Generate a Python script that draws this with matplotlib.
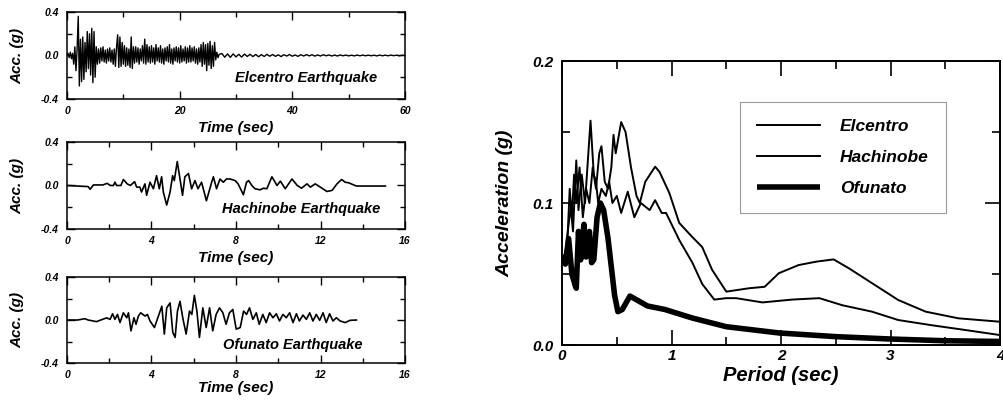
import numpy as np
import matplotlib
matplotlib.use("Agg")
import matplotlib.pyplot as plt
from matplotlib.font_manager import FontProperties
from matplotlib.ticker import MultipleLocator, FormatStrFormatter

plt.rcParams['font.family'] = ['Liberation Sans', 'DejaVu Sans']
plt.rcParams['font.weight'] = 'bold'
plt.rcParams['font.style'] = 'italic'
plt.rcParams['axes.labelweight'] = 'bold'
plt.rcParams['axes.unicode_minus'] = False

# ---- Elcentro record (strong part sampled at 0.2 s, coda at 0.5 s) ----
elcentro_dt = 0.2
elcentro_strong = [
    0.0, 0.02, -0.02, 0.03, -0.03, 0.02, -0.08, 0.08, -0.14, 0.06,
    0.36, -0.28, 0.15, -0.24, 0.17, -0.22, 0.12, -0.15, 0.22, -0.12,
    0.20, -0.18, 0.25, -0.25, 0.22, -0.20, 0.08, -0.08, 0.06, -0.07,
    0.07, -0.05, 0.08, -0.06, 0.05, -0.07, 0.06, -0.05, 0.07, -0.06,
    0.05, -0.08, 0.06, -0.10, 0.08, 0.19, -0.11, 0.17, -0.10, 0.12,
    -0.08, 0.09, -0.10, 0.07, -0.09, 0.06, -0.11, 0.17, -0.12, 0.08,
    -0.07, 0.08, -0.06, 0.07, -0.08, 0.06, -0.05, 0.09, -0.07, 0.15,
    -0.08, 0.10, -0.06, 0.08, -0.07, 0.09, -0.06, 0.07, -0.08, 0.10,
    -0.05, 0.07, -0.06, 0.09, -0.07, 0.06, -0.08, 0.07, -0.05, 0.08,
    -0.06, 0.10, -0.07, 0.06, -0.08, 0.07, -0.05, 0.08, -0.06, 0.07,
    -0.07, 0.09, -0.06, 0.06, -0.05, 0.08, -0.07, 0.07, -0.06, 0.09,
    -0.06, 0.07, -0.05, 0.08, -0.07, 0.06, -0.08, 0.07, -0.06, 0.10,
    -0.10, 0.12, -0.08, 0.10, -0.14, 0.11, -0.09, 0.13, -0.12, 0.09,
    -0.10, 0.12, -0.04, 0.03, -0.02, 0.01,
]
elcentro_coda_start = 27.5
elcentro_coda_dt = 0.5
elcentro_coda = [
    0.018, -0.016, 0.014, -0.017, 0.015, -0.013, 0.011, -0.015, 0.013, -0.009,
    0.011, -0.010, 0.009, -0.012, 0.008, -0.009, 0.010, -0.007, 0.009, -0.008,
    0.006, -0.010, 0.007, -0.005, 0.009, -0.007, 0.005, -0.008, 0.007, -0.005,
    0.008, -0.004, 0.007, -0.006, 0.005, -0.005, 0.007, -0.003, 0.005, -0.005,
    0.004, -0.005, 0.005, -0.003, 0.004, -0.004, 0.003, -0.004, 0.004, -0.003,
    0.004, -0.003, 0.003, -0.003, 0.003, -0.004, 0.004, -0.003, 0.003, -0.003,
    0.004, -0.002, 0.003, -0.003, 0.002, 0.0,
]

# ---- Hachinobe record (read-off points) ----
hachinobe_t = [
    0.0, 0.5, 1.0, 1.1, 1.25, 1.7, 1.9, 2.05, 2.2, 2.27, 2.35, 2.55, 2.67, 2.85,
    3.0, 3.2, 3.3, 3.45, 3.53, 3.69, 3.77, 3.93, 4.09, 4.24, 4.37, 4.48, 4.56,
    4.72, 4.88, 5.0, 5.08, 5.22, 5.35, 5.47, 5.58, 5.75, 5.9, 6.06, 6.2, 6.37,
    6.6, 6.85, 6.93, 7.08, 7.24, 7.4, 7.55, 7.72, 7.96, 8.1, 8.35, 8.5, 8.6,
    8.75, 8.9, 9.14, 9.3, 9.46, 9.7, 9.94, 10.1, 10.33, 10.65, 10.9, 11.1,
    11.36, 11.52, 11.75, 11.99, 12.3, 12.55, 12.78, 13.0, 13.17, 13.33, 13.57,
    13.7, 15.07,
]
hachinobe_acc = [
    0.0, -0.005, -0.01, -0.035, 0.005, 0.005, 0.02, 0.0, 0.0, 0.03, 0.0, 0.0,
    0.055, 0.015, 0.0, 0.035, -0.015, -0.015, -0.06, 0.015, -0.09, 0.03, -0.03,
    0.09, -0.03, 0.08, -0.06, -0.18, -0.06, 0.09, 0.045, 0.22, 0.06, -0.09,
    0.08, 0.11, -0.03, 0.045, -0.03, 0.03, -0.14, 0.03, 0.08, -0.03, 0.06,
    0.03, 0.06, 0.06, 0.045, 0.015, -0.085, 0.03, 0.045, 0.0, -0.03, -0.04,
    -0.025, -0.03, 0.08, 0.0, 0.04, -0.03, 0.06, 0.0, -0.025, 0.015, -0.015,
    0.015, -0.015, -0.055, -0.045, 0.015, 0.055, 0.03, 0.025, 0.005, -0.005,
    -0.005,
]

# ---- Ofunato record (read-off points) ----
ofunato_t = [
    0.0, 0.5, 0.85, 1.0, 1.4, 1.6, 1.88, 2.04, 2.16, 2.27, 2.39, 2.51, 2.67,
    2.83, 2.91, 3.03, 3.17, 3.27, 3.38, 3.49, 3.59, 3.7, 3.81, 3.93, 4.14,
    4.3, 4.41, 4.49, 4.61, 4.72, 4.88, 5.01, 5.12, 5.23, 5.35, 5.48, 5.64,
    5.8, 5.91, 6.03, 6.15, 6.27, 6.43, 6.59, 6.75, 6.9, 7.06, 7.22, 7.38,
    7.53, 7.69, 7.85, 8.01, 8.2, 8.36, 8.5, 8.64, 8.8, 8.96, 9.1, 9.27, 9.43,
    9.59, 9.75, 9.91, 10.06, 10.22, 10.38, 10.54, 10.7, 10.86, 11.0, 11.17,
    11.33, 11.49, 11.64, 11.8, 11.96, 12.12, 12.27, 12.43, 12.59, 12.75,
    12.93, 13.17, 13.4, 13.7,
]
ofunato_acc = [
    0.0, 0.0, 0.012, 0.0, -0.015, 0.0, 0.02, 0.006, 0.058, 0.006, 0.052,
    -0.024, 0.067, 0.021, 0.067, -0.101, 0.021, -0.04, 0.037, 0.067, 0.052,
    0.037, 0.052, -0.009, -0.07, 0.021, 0.083, 0.128, -0.131, 0.113, 0.159,
    -0.116, -0.162, 0.083, 0.174, 0.021, -0.131, 0.083, 0.052, 0.229, 0.083,
    -0.162, 0.113, -0.07, 0.113, -0.101, 0.052, 0.113, 0.067, -0.04, 0.067,
    0.098, -0.085, -0.07, 0.083, 0.052, 0.113, 0.006, 0.067, -0.04, 0.052,
    -0.024, 0.067, 0.021, 0.058, -0.009, 0.052, 0.021, 0.067, -0.024, 0.058,
    -0.009, 0.046, 0.006, 0.067, -0.009, 0.052, -0.003, 0.067, -0.024, 0.058,
    -0.009, 0.021, -0.009, -0.024, -0.003, 0.0,
]

# ---- Response spectra ----
period_el = [0.0, 0.03, 0.06, 0.08, 0.10, 0.13, 0.15, 0.18, 0.21, 0.26, 0.29,
             0.31, 0.33, 0.36, 0.40, 0.43, 0.46, 0.50, 0.54, 0.60, 0.66, 0.72,
             0.80, 0.85, 0.91, 0.95, 1.07, 1.19, 1.28, 1.39, 1.50, 1.59, 1.83,
             2.10, 2.35, 2.56, 2.83, 3.07, 3.37, 3.68, 4.0]
sa_el = [0.060, 0.065, 0.085, 0.097, 0.080, 0.130, 0.095, 0.120, 0.100, 0.158,
         0.120, 0.115, 0.100, 0.110, 0.105, 0.115, 0.100, 0.105, 0.093, 0.108,
         0.090, 0.100, 0.095, 0.102, 0.093, 0.093, 0.074, 0.058, 0.043, 0.032,
         0.033, 0.033, 0.030, 0.032, 0.033, 0.028, 0.0235, 0.0176, 0.014,
         0.0106, 0.007]

period_ha = [0.0, 0.03, 0.05, 0.07, 0.09, 0.11, 0.13, 0.16, 0.19, 0.22, 0.25,
             0.28, 0.31, 0.34, 0.36, 0.39, 0.42, 0.45, 0.47, 0.49, 0.54, 0.58,
             0.63, 0.68, 0.71, 0.76, 0.85, 0.89, 0.98, 1.07, 1.19, 1.28, 1.37,
             1.50, 1.71, 1.85, 1.98, 2.16, 2.32, 2.48, 2.62, 2.83, 3.07, 3.32,
             3.62, 4.0]
sa_ha = [0.058, 0.060, 0.075, 0.110, 0.090, 0.120, 0.100, 0.125, 0.090, 0.110,
         0.100, 0.125, 0.110, 0.135, 0.140, 0.115, 0.110, 0.125, 0.148, 0.135,
         0.157, 0.150, 0.125, 0.105, 0.100, 0.115, 0.1256, 0.122, 0.107, 0.086,
         0.076, 0.069, 0.053, 0.0376, 0.040, 0.041, 0.0506, 0.0563, 0.0587,
         0.0603, 0.054, 0.0436, 0.0317, 0.0235, 0.0188, 0.0164]

period_of = [0.0, 0.03, 0.06, 0.09, 0.12, 0.13, 0.15, 0.17, 0.20, 0.22, 0.25,
             0.27, 0.29, 0.32, 0.35, 0.38, 0.42, 0.45, 0.48, 0.51, 0.55, 0.62,
             0.70, 0.78, 0.94, 1.19, 1.50, 1.98, 2.50, 3.01, 3.50, 4.0]
sa_of = [0.060, 0.057, 0.075, 0.050, 0.042, 0.040, 0.080, 0.060, 0.085, 0.062,
         0.080, 0.058, 0.060, 0.090, 0.100, 0.095, 0.075, 0.055, 0.035, 0.0235,
         0.025, 0.0345, 0.031, 0.0275, 0.025, 0.019, 0.0129, 0.0085, 0.0059,
         0.0042, 0.003, 0.0025]


def style_history(ax, xmax, xmajor):
    ax.set_xlim(0, xmax)
    ax.set_ylim(-0.4, 0.4)
    ax.xaxis.set_major_locator(MultipleLocator(xmajor))
    ax.xaxis.set_minor_locator(MultipleLocator(xmajor / 2))
    ax.yaxis.set_major_locator(MultipleLocator(0.4))
    ax.yaxis.set_minor_locator(MultipleLocator(0.2))
    ax.yaxis.set_major_formatter(FormatStrFormatter('%.1f'))
    ax.tick_params(which='both', direction='in', top=True, right=True,
                   width=1.0, labelsize=7.5)
    ax.tick_params(which='major', length=6)
    ax.tick_params(which='minor', length=3.5)
    ax.tick_params(axis='x', pad=5)
    ax.tick_params(axis='y', pad=6)
    for s in ax.spines.values():
        s.set_linewidth(1.1)
    ax.set_ylabel("Acc. (g)", fontsize=11)
    ax.yaxis.set_label_coords(-0.125, 0.5)
    ax.set_xlabel("Time (sec)", fontsize=11)


fig = plt.figure(figsize=(10.04, 4.05), dpi=100)

# Elcentro
ax1 = fig.add_axes([0.0667, 0.7556, 0.3367, 0.2148])
t_strong = np.arange(len(elcentro_strong)) * elcentro_dt
t_coda = elcentro_coda_start + np.arange(len(elcentro_coda)) * elcentro_coda_dt
ax1.plot(np.concatenate([t_strong, t_coda]),
         elcentro_strong + elcentro_coda, color='black', lw=1.0)
style_history(ax1, 60, 20)
ax1.xaxis.set_label_coords(0.5, -0.25)
ax1.text(0.497, 0.24, "Elcentro Earthquake", transform=ax1.transAxes,
         fontsize=10.5, ha='left', va='center')

# Hachinobe
ax2 = fig.add_axes([0.0667, 0.4346, 0.3367, 0.2148])
ax2.plot(hachinobe_t, hachinobe_acc, color='black', lw=1.2)
style_history(ax2, 16, 4)
ax2.xaxis.set_label_coords(0.5, -0.25)
ax2.text(0.459, 0.23, "Hachinobe Earthquake", transform=ax2.transAxes,
         fontsize=10.5, ha='left', va='center')

# Ofunato
ax3 = fig.add_axes([0.0667, 0.1037, 0.3367, 0.2123])
ax3.plot(ofunato_t, ofunato_acc, color='black', lw=1.2)
style_history(ax3, 16, 4)
ax3.xaxis.set_label_coords(0.5, -0.21)
ax3.text(0.462, 0.21, "Ofunato Earthquake", transform=ax3.transAxes,
         fontsize=10.5, ha='left', va='center')

# Response spectra
ax4 = fig.add_axes([0.5598, 0.1481, 0.4363, 0.7012])
ax4.plot(period_el, sa_el, color='black', lw=1.4, label="Elcentro")
ax4.plot(period_ha, sa_ha, color='black', lw=1.4, label="Hachinobe")
ax4.plot(period_of, sa_of, color='black', lw=4.0, label="Ofunato",
         solid_capstyle='butt')
ax4.set_xlim(0, 4)
ax4.set_ylim(0, 0.2)
ax4.xaxis.set_major_locator(MultipleLocator(1))
ax4.xaxis.set_minor_locator(MultipleLocator(0.5))
ax4.yaxis.set_major_locator(MultipleLocator(0.1))
ax4.yaxis.set_minor_locator(MultipleLocator(0.05))
ax4.yaxis.set_major_formatter(FormatStrFormatter('%.1f'))
ax4.tick_params(which='both', direction='in', top=True, right=True,
                width=1.2, labelsize=11)
ax4.tick_params(which='major', length=11)
ax4.tick_params(which='minor', length=6)
ax4.tick_params(axis='x', pad=3)
ax4.tick_params(axis='y', pad=6)
for s in ax4.spines.values():
    s.set_linewidth(1.4)
ax4.set_xlabel("Period (sec)", fontsize=14.5)
ax4.xaxis.set_label_coords(0.5, -0.075)
ax4.set_ylabel("Acceleration (g)", fontsize=14)
ax4.yaxis.set_label_coords(-0.11, 0.5)

legend_font = FontProperties(family='Liberation Sans', weight='heavy',
                             style='italic', size=12.5)
leg = ax4.legend(loc='upper left', bbox_to_anchor=(0.406, 0.856),
                 borderaxespad=0, handlelength=3.6, prop=legend_font,
                 handletextpad=1.15, labelspacing=0.9, borderpad=1.0,
                 fancybox=False, framealpha=1)
leg.get_frame().set_edgecolor('#999999')
leg.get_frame().set_linewidth(0.8)

fig.savefig("out.png", dpi=100)
